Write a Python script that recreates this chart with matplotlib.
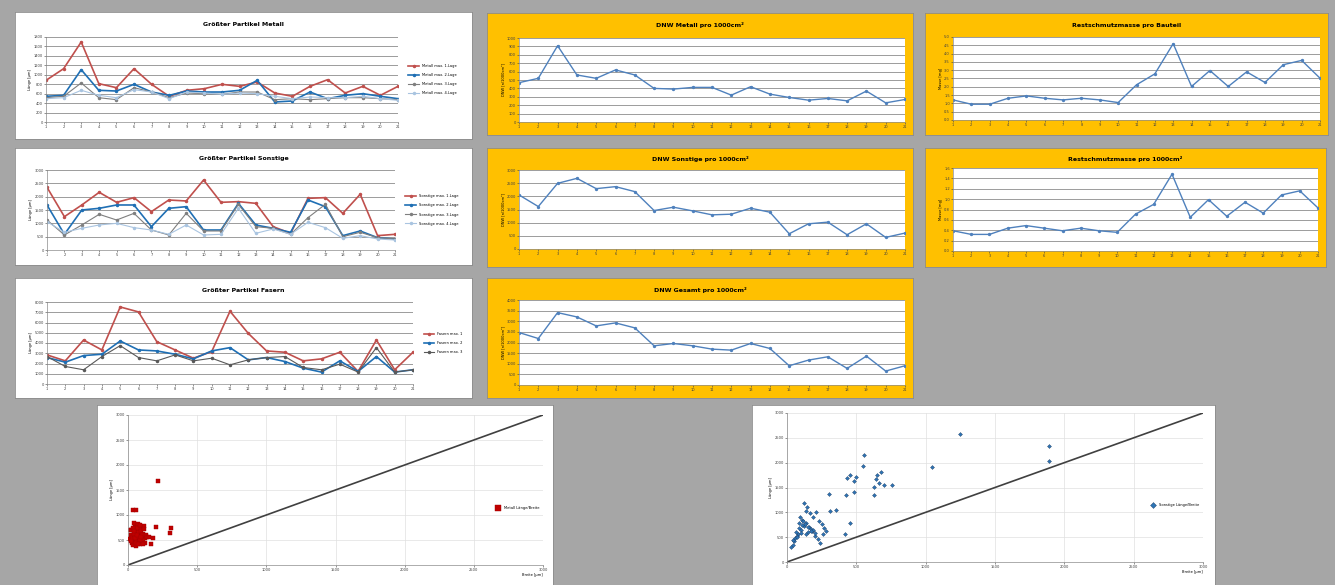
import numpy as np
import matplotlib.pyplot as plt

W, H = 1335, 585
GRAY_BG = '#a6a6a6'
YELLOW = '#ffc000'

x21 = list(range(1, 22))

# Größter Partikel Metall
metall_1 = [882, 1129, 1694, 812, 727, 1129, 798, 544, 671, 706, 798, 755, 847, 614, 544, 755, 896, 614, 755, 565, 755]
metall_2 = [544, 565, 1108, 671, 656, 798, 635, 565, 656, 635, 635, 671, 882, 424, 445, 635, 494, 565, 600, 544, 494]
metall_3 = [515, 544, 826, 515, 473, 727, 635, 515, 614, 600, 586, 635, 635, 473, 494, 473, 494, 515, 515, 494, 473]
metall_4 = [494, 515, 671, 565, 515, 685, 635, 494, 635, 614, 586, 614, 600, 544, 494, 530, 515, 515, 544, 494, 459]
metall_labels = ['Metall max. 1.Lage', 'Metall max. 2.Lage', 'Metall max. 3.Lage', 'Metall max. 4.Lage']

# Größter Partikel Sonstige
sonst_1 = [2350, 1250, 1688, 2163, 1788, 1963, 1438, 1875, 1838, 2625, 1788, 1813, 1750, 875, 625, 1938, 1963, 1375, 2088, 538, 588]
sonst_2 = [1688, 588, 1500, 1563, 1688, 1688, 875, 1563, 1625, 750, 750, 1750, 938, 813, 663, 1875, 1625, 538, 713, 463, 413]
sonst_3 = [1125, 563, 938, 1338, 1125, 1375, 750, 563, 1375, 713, 713, 1713, 875, 813, 588, 1213, 1713, 500, 663, 463, 413]
sonst_4 = [1063, 663, 813, 938, 1000, 838, 750, 588, 938, 563, 588, 1563, 625, 788, 588, 1038, 838, 438, 538, 413, 375]
sonst_labels = ['Sonstige max. 1.Lage', 'Sonstige max. 2.Lage', 'Sonstige max. 3.Lage', 'Sonstige max. 4.Lage']

# Größter Partikel Fasern
faser_1 = [2839, 2258, 4290, 3323, 7516, 7032, 4129, 3323, 2516, 3161, 7097, 4935, 3226, 3097, 2258, 2452, 3097, 1226, 4290, 1387, 3097]
faser_2 = [2581, 2129, 2774, 2903, 4194, 3323, 3226, 2903, 2452, 3226, 3548, 2355, 2581, 2194, 1548, 1161, 2258, 1226, 2677, 1161, 1387]
faser_3 = [2677, 1710, 1387, 2677, 3742, 2581, 2258, 2839, 2258, 2516, 1871, 2355, 2581, 2677, 1613, 1387, 1935, 1161, 3548, 1161, 1387]
faser_labels = ['Fasern max. 1', 'Fasern max. 2', 'Fasern max. 3']

# DNW / Restschmutz
dnw_metall = [468, 520, 908, 560, 520, 620, 560, 400, 392, 412, 412, 320, 420, 332, 292, 260, 280, 252, 368, 228, 268]
dnw_sonst = [2053, 1612, 2494, 2683, 2292, 2368, 2179, 1461, 1587, 1448, 1297, 1322, 1549, 1398, 579, 957, 1020, 542, 957, 441, 605]
dnw_gesamt = [2469, 2188, 3406, 3203, 2781, 2922, 2688, 1844, 1953, 1844, 1688, 1641, 1953, 1719, 906, 1172, 1328, 781, 1359, 656, 906]
rest_bauteil = [1.21, 0.95, 0.95, 1.31, 1.45, 1.31, 1.21, 1.31, 1.21, 1.05, 2.12, 2.78, 4.60, 2.02, 2.98, 2.02, 2.90, 2.26, 3.33, 3.59, 2.52]
rest_1000 = [0.39, 0.32, 0.32, 0.44, 0.49, 0.44, 0.39, 0.44, 0.39, 0.36, 0.71, 0.90, 1.48, 0.65, 0.99, 0.67, 0.94, 0.73, 1.08, 1.16, 0.83]

# Scatter Länge / Breite
metall_breite = [36, 55, 20, 45, 60, 80, 30, 95, 110, 70, 50, 40, 25, 65, 85, 100, 120, 130, 15, 35,
                 55, 75, 90, 105, 45, 60, 30, 70, 80, 115, 125, 140, 20, 50, 65, 95, 110, 40, 85, 150,
                 205, 300, 313, 180, 169, 217, 60, 75, 35, 100, 28, 42, 58, 88, 118, 72, 48, 22, 64, 92]
metall_laenge = [1100, 1100, 600, 520, 700, 640, 450, 560, 620, 480, 760, 850, 700, 580, 420, 480, 540, 600, 520, 400,
                 640, 820, 720, 500, 460, 380, 560, 660, 520, 780, 450, 560, 700, 600, 740, 680, 420, 620, 800, 560,
                 767, 647, 747, 547, 413, 1680, 480, 560, 740, 600, 520, 680, 440, 500, 720, 420, 540, 480, 600, 560]
sonst_breite = [1248, 1891, 1891, 1044, 552, 547, 430, 455, 480, 500, 624, 640, 660, 680, 696, 650, 756, 629, 480, 427,
                300, 312, 355, 456, 420, 40, 60, 80, 100, 120, 140, 160, 180, 200, 220, 240, 260, 280, 50, 70,
                90, 110, 130, 150, 170, 190, 210, 230, 30, 65, 85, 105, 125, 145, 165, 185, 205, 95, 115, 135,
                155, 175, 45, 75, 100, 250, 270, 140]
sonst_laenge = [2577, 2329, 2040, 1906, 2148, 1940, 1700, 1760, 1640, 1720, 1520, 1680, 1600, 1820, 1560, 1760, 1557, 1356, 1409, 1356,
                1369, 1034, 1054, 785, 564, 350, 480, 560, 640, 720, 780, 700, 620, 520, 460, 380, 560, 620, 420, 520,
                780, 840, 760, 600, 660, 900, 1000, 820, 300, 600, 680, 740, 1180, 1100, 980, 640, 580, 900, 820, 560,
                700, 620, 440, 500, 580, 760, 680, 1020]

fig = plt.figure(figsize=(W / 100, H / 100), dpi=100)
fig.patch.set_facecolor(GRAY_BG)


def rect(x0, y0, x1, y1):
    return [x0 / W, 1 - y1 / H, (x1 - x0) / W, (y1 - y0) / H]


def panel(box, color):
    ax = fig.add_axes(rect(*box))
    ax.set_facecolor(color)
    ax.set_xticks([])
    ax.set_yticks([])
    for s in ax.spines.values():
        s.set_edgecolor('#8c8c8c')
        s.set_linewidth(0.6)
    return ax


def style_axes(ax, ymax, step, ylabel):
    ax.set_xlim(1, 21)
    ax.set_ylim(0, ymax)
    ax.set_xticks(x21)
    ax.set_yticks(np.arange(0, ymax + step / 2, step))
    ax.tick_params(labelsize=2.6, length=1.2, width=0.4, pad=1, colors='#404040')
    ax.yaxis.grid(True, color='#8c8c8c', lw=0.6)
    ax.set_axisbelow(True)
    for s in ['top', 'right']:
        ax.spines[s].set_visible(False)
    for s in ['left', 'bottom']:
        ax.spines[s].set_color('#8c8c8c')
        ax.spines[s].set_linewidth(0.5)
    ax.set_ylabel(ylabel, fontsize=2.6, labelpad=1)


# multi-series charts on white panels
multi = [
    ((15, 12, 472, 139), (46, 37, 398, 122), 'Größter Partikel Metall',
     [metall_1, metall_2, metall_3, metall_4], metall_labels, 1800, 200, 25),
    ((15, 148, 472, 265), (47, 170, 395, 250), 'Größter Partikel Sonstige',
     [sonst_1, sonst_2, sonst_3, sonst_4], sonst_labels, 3000, 500, 159),
    ((15, 278, 472, 398), (47, 302, 413, 384), 'Größter Partikel Fasern',
     [faser_1, faser_2, faser_3], faser_labels, 8000, 1000, 290),
]
colors4 = ['#c0504d', '#1f6fb4', '#7f7f7f', '#a9c4e0']
for box, inner, title, series, labels, ymax, step, ty in multi:
    panel(box, 'white')
    ax = fig.add_axes(rect(*inner))
    ax.set_facecolor('white')
    lws = [1.2, 1.2, 0.8, 0.8]
    for i, (vals, lab) in enumerate(zip(series, labels)):
        c = colors4[i] if len(series) == 4 else ['#c0504d', '#1f6fb4', '#595959'][i]
        ax.plot(x21, vals, color=c, lw=lws[i], marker='o', ms=1.5, label=lab)
    style_axes(ax, ymax, step, 'Länge [µm]')
    ax.legend(loc='center left', bbox_to_anchor=(1.02, 0.5), fontsize=2.6, frameon=False,
              handlelength=3, labelspacing=1.4)
    fig.text((box[0] + box[2]) / 2 / W, 1 - ty / H, title, fontsize=4.5, fontweight='bold',
             ha='center', va='center')

# single-series charts on yellow panels
single = [
    ((487, 13, 913, 135), (519, 38, 905, 122), 'DNW Metall pro 1000cm²', dnw_metall, 1000, 100, 'DNW [n/1000cm²]', 25),
    ((925, 13, 1328, 135), (953, 37, 1320, 120), 'Restschmutzmasse pro Bauteil', rest_bauteil, 5, 0.5, 'Masse [mg]', 25),
    ((487, 148, 913, 267), (519, 170, 905, 249), 'DNW Sonstige pro 1000cm²', dnw_sonst, 3000, 500, 'DNW [n/1000cm²]', 159),
    ((925, 148, 1326, 267), (953, 168, 1318, 251), 'Restschmutzmasse pro 1000cm²', rest_1000, 1.6, 0.2, 'Masse [mg]', 159),
    ((487, 278, 913, 398), (519, 300, 905, 385), 'DNW Gesamt pro 1000cm²', dnw_gesamt, 4000, 500, 'DNW [n/1000cm²]', 290),
]
for box, inner, title, vals, ymax, step, ylab, ty in single:
    panel(box, YELLOW)
    ax = fig.add_axes(rect(*inner))
    ax.set_facecolor('white')
    ax.plot(x21, vals, color='#4f81bd', lw=1.0, marker='o', ms=1.4, mfc='#4f81bd')
    style_axes(ax, ymax, step, ylab)
    fig.text((box[0] + box[2]) / 2 / W, 1 - ty / H, title, fontsize=4.5, fontweight='bold',
             ha='center', va='center')

# scatter charts
scat = [
    ((97, 405, 553, 585), (128, 415, 543, 565), metall_breite, metall_laenge, '#c00000', '#a00000', 's', 7, 'Metall Länge/Breite'),
    ((752, 405, 1215, 585), (787, 413, 1203, 562), sonst_breite, sonst_laenge, '#2e75b6', '#1f3f66', 'D', 4, 'Sonstige Länge/Breite'),
]
for box, inner, bx, ly, c, ec, m, sz, lab in scat:
    panel(box, 'white')
    ax = fig.add_axes(rect(*inner))
    ax.set_facecolor('white')
    ax.scatter(bx, ly, s=sz, color=c, marker=m, edgecolors=ec, lw=0.3, label=lab, zorder=3)
    ax.plot([0, 3000], [0, 3000], color='#404040', lw=1.2, zorder=2)
    ax.set_xlim(0, 3000)
    ax.set_ylim(0, 3000)
    ax.set_xticks(np.arange(0, 3001, 500))
    ax.set_yticks(np.arange(0, 3001, 500))
    ax.grid(True, color='#e0e0e0', lw=0.5)
    ax.set_axisbelow(True)
    ax.tick_params(labelsize=2.6, length=1.2, width=0.4, pad=1, colors='#404040')
    for s in ['top', 'right']:
        ax.spines[s].set_visible(False)
    for s in ['left', 'bottom']:
        ax.spines[s].set_color('#8c8c8c')
        ax.spines[s].set_linewidth(0.5)
    ax.set_ylabel('Länge [µm]', fontsize=2.6, labelpad=1)
    ax.set_xlabel('Breite [µm]', fontsize=2.6, labelpad=1, loc='right')
    ax.legend(loc='center right', bbox_to_anchor=(1.0, 0.38), fontsize=2.6, frameon=False,
              markerscale=1.5)

fig.savefig('out.png', dpi=100, facecolor=GRAY_BG)
